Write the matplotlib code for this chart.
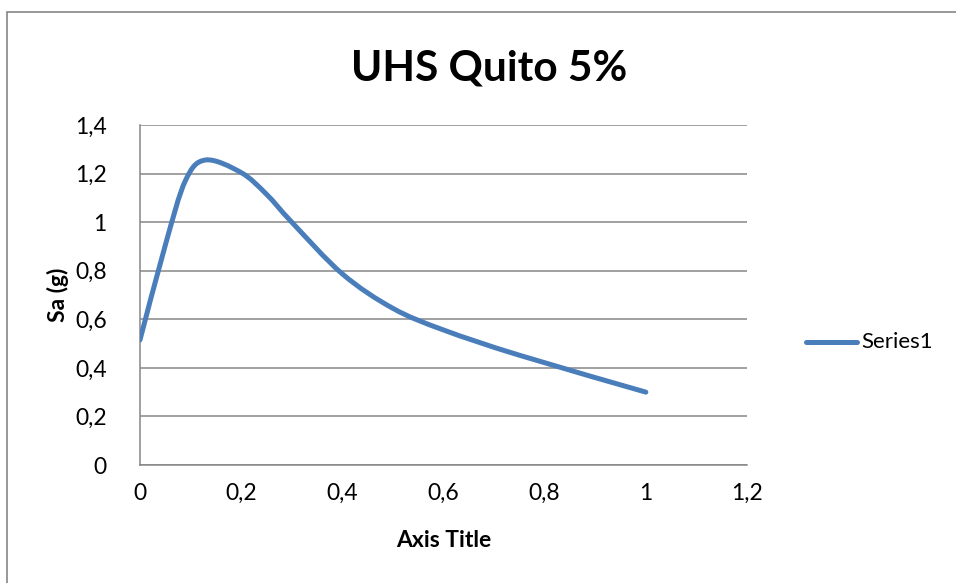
import matplotlib
matplotlib.use("Agg")
import matplotlib.pyplot as plt
from matplotlib.path import Path
from matplotlib.patches import PathPatch, Rectangle
from matplotlib.lines import Line2D
import numpy as np

plt.rcParams['font.family'] = ['Lato', 'DejaVu Sans']

# spectral ordinates: period (s) vs Sa (g)
period = [0.0, 0.05, 0.09, 0.13, 0.2, 0.25, 0.3, 0.4, 0.5, 0.6, 0.75, 1.0]
sa = [0.515, 0.905, 1.172, 1.256, 1.204, 1.115, 1.0, 0.787, 0.645, 0.556, 0.452, 0.30]
x_ticks = [0, 0.2, 0.4, 0.6, 0.8, 1.0, 1.2]
y_ticks = [0, 0.2, 0.4, 0.6, 0.8, 1.0, 1.2, 1.4]
series_name = 'Series1'

blue = '#4a7ebb'
grey = '#868686'


def smooth_path(xs, ys):
    # cubic Bezier segments like a spreadsheet "smoothed line"
    p = np.column_stack([xs, ys])
    n = len(p)
    verts = [p[0]]
    codes = [Path.MOVETO]
    for i in range(n - 1):
        prev = p[i - 1] if i > 0 else p[i]
        nxt = p[i + 2] if i + 2 < n else p[i + 1]
        c1 = p[i] + (p[i + 1] - prev) / 6.0
        c2 = p[i + 1] - (nxt - p[i]) / 6.0
        verts += [c1, c2, p[i + 1]]
        codes += [Path.CURVE4] * 3
    return Path(verts, codes)


fig = plt.figure(figsize=(9.56, 5.83), dpi=100)
ax = fig.add_axes([140 / 956, 1 - 465 / 583, 607 / 956, 340 / 583])

ax.add_patch(PathPatch(smooth_path(period, sa), facecolor='none', edgecolor=blue,
                       lw=3.6, capstyle='round', joinstyle='round', zorder=3))

ax.set_xlim(0, 1.2)
ax.set_ylim(0, 1.4)
ax.set_xticks(x_ticks)
ax.set_yticks(y_ticks)
fmt = lambda v: ('%g' % v).replace('.', ',')
ax.set_xticklabels([fmt(v) for v in x_ticks])
ax.set_yticklabels([fmt(v) for v in y_ticks])
ax.tick_params(length=0, labelsize=16.5, pad=13)
ax.tick_params(axis='y', pad=24)
ax.grid(axis='y', color=grey, lw=1.1)
ax.set_axisbelow(True)
for side in ['top', 'right']:
    ax.spines[side].set_visible(False)
for side in ['left', 'bottom']:
    ax.spines[side].set_color(grey)
    ax.spines[side].set_linewidth(1.1)

ax.set_xlabel('Axis Title', fontsize=16.5, fontweight='bold', labelpad=19)
ax.set_ylabel('Sa (g)', fontsize=16.5, fontweight='bold', labelpad=4)

fig.text(489 / 956, 1 - 68 / 583, 'UHS Quito 5%', ha='center', va='center',
         fontsize=30.5, fontweight='bold')

# legend entry
fig.add_artist(Line2D([806 / 956, 857 / 956], [1 - 342 / 583, 1 - 342 / 583],
                      color=blue, lw=3.6, solid_capstyle='round'))
fig.text(861 / 956, 1 - 342 / 583, series_name, ha='left', va='center', fontsize=16)

# chart frame
fig.add_artist(Rectangle((7 / 956, -0.05), 1.0, 1 - 12 / 583 + 0.05, transform=fig.transFigure,
                         facecolor='none', edgecolor=grey, lw=1.2))

fig.savefig('out.png', dpi=100)
